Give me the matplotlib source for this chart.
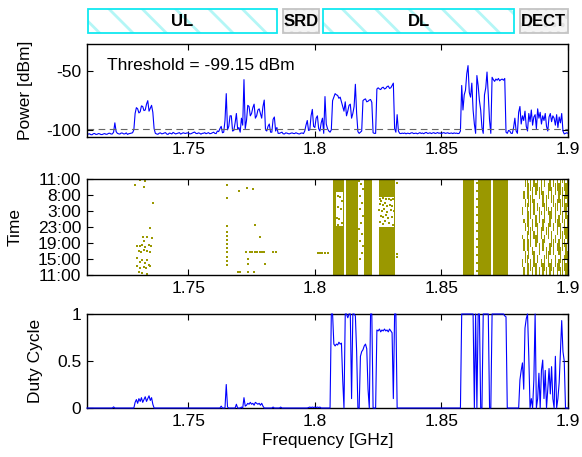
import matplotlib
matplotlib.use("Agg")
import matplotlib.pyplot as plt
import numpy as np
from matplotlib.patches import Rectangle

plt.rcParams["font.family"] = ["Liberation Sans", "DejaVu Sans"]
plt.rcParams["font.size"] = 12.5
plt.rcParams["hatch.linewidth"] = 2.0

# frequency grid of the sweep, MHz (0.5 MHz bins)
freq_mhz = np.arange(1710, 1900.5, 0.5)

# mean power per bin [dBm]
power_dbm = [
    -104.0, -103.6, -103.4, -104.1, -104.2, -103.3, -103.1, -103.9, -103.8, -103.2,
    -103.4, -104.0, -104.0, -103.5, -103.2, -103.8, -103.7, -103.0, -102.9, -103.6,
    -103.5, -102.0, -94.0, -101.5, -103.0, -103.4, -103.6, -102.7, -102.8, -103.5,
    -103.4, -102.6, -103.9, -103.3, -103.1, -102.8, -102.5, -100.0, -86.0, -81.0,
    -82.0, -85.5, -84.5, -79.5, -80.0, -83.5, -83.0, -78.0, -75.0, -84.0,
    -81.5, -79.0, -85.0, -99.0, -103.0, -103.5, -103.8, -102.9, -102.6, -103.4,
    -103.2, -102.7, -102.4, -103.6, -103.9, -102.8, -103.0, -103.5, -102.2, -102.9,
    -103.5, -103.1, -102.8, -102.4, -103.6, -103.0, -102.5, -102.9, -103.1, -102.6,
    -102.7, -103.4, -103.4, -102.8, -102.3, -101.9, -103.0, -103.2, -102.6, -102.9,
    -103.7, -103.0, -102.9, -102.4, -103.3, -102.8, -102.4, -103.3, -103.1, -102.5,
    -102.0, -103.0, -103.2, -101.0, -101.5, -99.0, -97.0, -102.5, -102.0, -92.0,
    -69.0, -100.0, -97.0, -88.0, -88.0, -101.0, -100.5, -94.0, -86.0, -99.5,
    -98.0, -102.0, -90.0, -96.0, -57.0, -99.0, -92.0, -79.0, -80.0, -88.0,
    -86.0, -81.0, -78.0, -90.0, -88.0, -83.0, -82.0, -86.0, -90.0, -80.0,
    -74.5, -100.0, -101.0, -97.0, -95.0, -102.0, -102.0, -91.0, -89.0, -101.0,
    -98.0, -103.0, -103.0, -102.5, -102.0, -103.4, -103.5, -102.6, -102.8, -103.3,
    -103.4, -102.9, -102.6, -103.1, -103.2, -102.5, -102.9, -103.4, -103.5, -102.8,
    -102.7, -103.2, -101.0, -96.0, -92.0, -100.5, -100.0, -88.0, -82.5, -97.0,
    -98.0, -90.0, -88.0, -99.0, -101.0, -94.0, -90.0, -103.0, -71.5, -95.0,
    -99.0, -101.0, -102.0, -100.0, -75.0, -72.0, -69.0, -70.0, -70.5, -73.0,
    -72.0, -76.0, -80.0, -84.0, -76.0, -88.0, -84.0, -79.0, -78.0, -90.0,
    -86.0, -80.0, -61.0, -86.0, -101.5, -103.0, -102.0, -101.0, -75.0, -74.0,
    -73.5, -76.0, -75.5, -74.5, -74.0, -76.5, -102.5, -103.0, -103.0, -65.0,
    -64.0, -65.0, -65.5, -64.0, -63.5, -65.0, -64.5, -63.0, -62.5, -64.5,
    -64.0, -62.0, -60.0, -99.0, -102.0, -87.0, -101.0, -103.0, -103.2, -102.8,
    -103.1, -102.7, -103.4, -102.9, -103.0, -103.3, -102.6, -102.5, -103.2, -103.0,
    -102.8, -103.4, -102.9, -102.4, -103.1, -102.7, -103.3, -102.6, -102.2, -103.0,
    -102.9, -102.5, -103.2, -102.7, -102.4, -103.1, -102.8, -102.3, -103.0, -102.6,
    -103.3, -102.6, -102.4, -103.0, -102.8, -102.5, -103.1, -102.9, -102.7, -103.2,
    -102.6, -103.0, -102.8, -103.2, -103.0, -101.0, -62.0, -83.0, -70.0, -66.0,
    -52.0, -45.0, -68.0, -72.0, -60.0, -83.0, -95.0, -103.0, -53.5, -62.0,
    -75.0, -83.0, -98.0, -103.0, -70.0, -64.0, -50.5, -70.0, -92.0, -103.0,
    -55.0, -57.0, -58.5, -56.5, -57.5, -56.0, -58.0, -57.0, -56.5, -57.5,
    -56.0, -102.0, -103.0, -100.5, -101.0, -103.0, -103.0, -98.0, -90.0, -101.0,
    -103.0, -85.0, -80.0, -95.0, -88.0, -92.0, -84.0, -97.0, -101.0, -86.0,
    -93.0, -83.0, -96.0, -89.0, -87.0, -99.0, -82.0, -90.0, -85.0, -95.0,
    -88.0, -92.0, -86.0, -97.0, -101.0, -89.0, -86.0, -93.0, -88.0, -90.0,
    -96.0, -87.0, -98.0, -89.0, -94.0, -86.0, -101.0, -103.5, -103.0, -102.5,
    -103.0,
]

# duty cycle per bin
duty = [
    0, 0, 0, 0, 0, 0, 0, 0, 0, 0,
    0, 0, 0, 0, 0, 0, 0, 0, 0, 0,
    0, 0.012, 0, 0, 0, 0, 0, 0, 0, 0,
    0, 0, 0, 0, 0, 0, 0, 0, 0.06, 0.09,
    0.05, 0.10, 0.07, 0.11, 0.06, 0.09, 0.12, 0.07, 0.10, 0.13,
    0.08, 0.11, 0.04, 0, 0, 0, 0, 0, 0, 0,
    0, 0, 0, 0, 0, 0, 0, 0, 0, 0,
    0, 0, 0, 0, 0, 0, 0, 0, 0, 0,
    0, 0, 0, 0, 0, 0, 0, 0, 0, 0,
    0, 0, 0, 0, 0, 0, 0, 0, 0, 0,
    0, 0, 0, 0, 0, 0, 0.02, 0, 0, 0,
    0.25, 0.01, 0, 0, 0, 0, 0, 0, 0.04, 0,
    0, 0, 0.01, 0, 0.11, 0.02, 0.03, 0.05, 0.04, 0.06,
    0.04, 0.05, 0.03, 0.06, 0.05, 0.04, 0.05, 0.03, 0.05, 0.02,
    0, 0, 0, 0, 0, 0, 0, 0.01, 0, 0,
    0, 0, 0, 0.01, 0, 0, 0, 0, 0, 0,
    0, 0, 0, 0, 0, 0, 0, 0, 0, 0,
    0, 0, 0, 0, 0, 0.005, 0.01, 0.005, 0.01, 0.005,
    0.01, 0.005, 0.01, 0.005, 0.01, 0, 0, 0, 0, 0,
    0, 0, 0, 1.0, 1.0, 0.68, 0.66, 0.68, 0.67, 0.70,
    0.68, 0.69, 0.30, 0.0, 1.0, 1.0, 0.96, 1.0, 1.0, 0.10,
    1.0, 1.0, 0.98, 0.60, 0.0, 0.0, 0.55, 0.60, 0.62, 0.66,
    0.68, 0.63, 0.20, 0.0, 1.0, 1.0, 0.0, 0.0, 0.0, 0.83,
    0.82, 0.84, 0.81, 0.83, 0.82, 0.84, 0.82, 0.83, 0.81, 0.84,
    0.82, 0.80, 0.10, 1.0, 1.0, 0.0, 0, 0, 0, 0,
    0, 0, 0, 0, 0, 0, 0, 0, 0, 0,
    0, 0, 0, 0, 0, 0, 0, 0, 0, 0,
    0, 0, 0, 0, 0, 0, 0, 0, 0, 0,
    0, 0, 0, 0, 0, 0, 0, 0, 0, 0,
    0, 0, 0, 0, 0, 0, 1.0, 1.0, 1.0, 1.0,
    1.0, 1.0, 1.0, 1.0, 1.0, 1.0, 0.0, 1.0, 0.0, 1.0,
    1.0, 0.0, 0.0, 1.0, 1.0, 1.0, 1.0, 1.0, 0.0, 0.0,
    1.0, 1.0, 1.0, 1.0, 1.0, 1.0, 1.0, 1.0, 1.0, 1.0,
    0.98, 0.97, 0.0, 0, 0, 0, 0, 0, 0, 0,
    0, 0, 0.30, 0.40, 0.48, 0.20, 0.85, 0.95, 1.0, 0.55,
    0.0, 0.10, 0.0, 0.30, 1.0, 0.0, 0.10, 0.37, 0.0, 0.40,
    0.51, 0.10, 0.40, 0.0, 0.20, 0.42, 0.15, 0.44, 0.10, 0.0,
    0.55, 0.0, 0.10, 0.27, 0.60, 0.93, 0.60, 0.50, 0.0, 0.0,
    0.0,
]

threshold_dbm = -99.15

# allocation boxes above the plots (MHz)
alloc_names = ["UL", "SRD", "DL", "DECT"]
alloc_lo = [1710.2, 1787.5, 1803.4, 1881.0]
alloc_hi = [1785.0, 1801.8, 1878.5, 1899.8]
alloc_cellular = [True, False, True, False]

# waterfall: channels busy the whole day (MHz)
busy_lo = [1807.3, 1812.4, 1819.4, 1825.2, 1858.7, 1864.6, 1870.3]
busy_hi = [1811.7, 1817.2, 1822.7, 1831.5, 1863.0, 1869.5, 1876.1]
# idle gaps inside those channels (MHz, hours after 11:00)
gap_lo = [1808.4, 1825.5]
gap_hi = [1811.2, 1831.2]
gap_t0 = [12.2, 12.0]
gap_t1 = [20.8, 19.5]

# single occupied samples (MHz, hours after 11:00)
dot_f = [
    1731.0, 1729.1, 1732.4, 1733.0, 1736.1,
    1735.0, 1733.7, 1732.1, 1735.7, 1732.6, 1729.7, 1730.8, 1731.7, 1733.0,
    1734.3, 1735.3, 1730.4, 1731.3, 1732.4, 1733.7, 1734.7, 1729.7, 1731.7,
    1733.7, 1730.8, 1733.0, 1734.3, 1729.7, 1732.4, 1735.0, 1731.0, 1733.4,
    1731.7, 1733.7, 1730.4,
    1765.4, 1765.4, 1765.4, 1765.4, 1765.4, 1765.4, 1765.4, 1765.4, 1765.4,
    1765.4, 1765.4, 1765.4,
    1770.2, 1773.2, 1775.5, 1773.5, 1773.5, 1776.5, 1778.5, 1780.5,
    1772.9, 1774.2, 1775.3, 1776.2, 1777.1, 1778.2, 1779.2, 1780.1, 1783.4,
    1784.7, 1769.5, 1770.5, 1773.5, 1775.8,
    1801.2, 1802.0, 1803.0, 1804.2, 1805.2,
    1809.1, 1810.1, 1810.6, 1809.3, 1810.4, 1808.8, 1809.7, 1810.6, 1809.1,
    1817.6, 1818.3, 1819.0, 1818.0, 1818.7, 1817.8, 1819.1, 1818.3, 1817.5,
    1818.8, 1818.0, 1819.1, 1818.6, 1817.8,
    1825.6, 1826.3, 1827.1, 1828.0, 1829.2, 1830.1, 1831.0, 1825.9, 1826.8,
    1827.7, 1828.6, 1829.5, 1830.6, 1825.4, 1826.4, 1827.3, 1828.3, 1829.9,
    1831.2, 1826.0, 1827.0, 1828.1, 1829.0, 1830.3, 1825.7, 1826.9, 1827.9,
    1829.3, 1830.8,
    1832.5, 1832.5, 1832.5,
    1864.2, 1864.2, 1864.2, 1864.2, 1864.2, 1864.2, 1864.2, 1864.2, 1864.2,
    1864.2, 1864.2, 1864.2,
]
dot_h = [
    23.75, 22.5, 22.1, 23.4, 17.9,
    11.8, 9.6, 9.6, 9.3, 8.5, 7.3, 7.3, 7.5, 7.1,
    7.5, 7.25, 6.0, 5.7, 6.25, 6.0, 5.7, 4.2, 3.75,
    3.75, 3.2, 2.9, 2.5, 2.3, 2.1, 2.25, 1.7, 1.8,
    0.4, 0.2, 0.7,
    12.25, 10.8, 9.75, 8.75, 7.75, 6.7, 5.7, 4.6, 3.6,
    2.5, 22.5, 19.2,
    21.1, 21.8, 21.5, 4.1, 2.75, 12.5, 9.4, 2.75,
    5.7, 5.7, 5.7, 5.7, 5.7, 5.7, 5.7, 5.7, 5.7,
    5.7, 0.7, 0.7, 0.7, 0.7,
    5.6, 5.6, 5.6, 5.6, 5.6,
    19.75, 19.6, 18.5, 16.9, 16.4, 14.3, 13.9, 13.1, 12.4,
    23.5, 22.7, 21.4, 19.75, 18.1, 16.4, 14.75, 13.1, 11.4,
    10.2, 8.5, 7.25, 5.6, 3.9,
    19.0, 18.6, 19.2, 18.9, 19.1, 18.7, 19.0, 17.8, 17.4,
    17.9, 17.2, 17.6, 17.3, 16.3, 16.0, 16.5, 15.8, 16.2,
    15.9, 14.7, 14.4, 14.9, 14.2, 14.6, 13.2, 12.8, 13.4,
    13.0, 12.6,
    23.1, 5.2, 4.4,
    1, 3, 5, 7, 9, 11, 13, 15, 17,
    19, 21, 23,
]

# DECT bursts: column frequency (MHz) and (start, end) hours
dect_f = [1882.0, 1882.6, 1883.2, 1883.9, 1884.5, 1885.2, 1885.9, 1886.6,
          1887.3, 1888.0, 1888.7, 1889.4, 1890.1, 1890.8, 1891.5, 1892.2,
          1892.9, 1893.6, 1894.3, 1895.0, 1895.7, 1896.4, 1897.1, 1897.8,
          1898.5, 1899.2, 1899.8]
dect_bursts = [
    [(2, 4), (9, 10), (15, 17)],
    [(0, 2), (6, 9), (13, 14), (19, 21)],
    [(3, 6), (11, 13), (17, 19), (22, 24)],
    [(0, 5), (6, 11), (12, 18), (19, 24)],
    [(0, 3), (4, 9), (10, 16), (17, 23)],
    [(1, 4), (7, 12), (14, 20), (21, 24)],
    [(0, 2), (5, 7), (11, 14), (18, 22)],
    [(2, 6), (9, 11), (15, 19), (22, 24)],
    [(0, 3), (7, 10), (12, 15), (20, 23)],
    [(3, 5), (8, 13), (16, 18), (21, 24)],
    [(0, 2), (5, 8), (13, 17), (19, 22)],
    [(2, 4), (9, 12), (15, 16), (20, 24)],
    [(0, 3), (6, 9), (11, 14), (17, 21)],
    [(1, 5), (8, 10), (13, 18), (22, 24)],
    [(0, 2), (4, 7), (10, 12), (16, 20)],
    [(2, 6), (9, 13), (15, 17), (19, 23)],
    [(0, 3), (5, 8), (12, 16), (21, 24)],
    [(1, 4), (7, 11), (14, 17), (18, 22)],
    [(0, 2), (5, 9), (11, 13), (17, 20), (22, 24)],
    [(2, 5), (8, 10), (13, 18), (20, 23)],
    [(0, 3), (6, 8), (10, 14), (16, 19), (21, 24)],
    [(1, 4), (5, 9), (12, 15), (18, 23)],
    [(0, 2), (3, 7), (9, 13), (15, 19), (20, 24)],
    [(0, 4), (6, 11), (13, 16), (17, 22), (23, 24)],
    [(1, 5), (7, 9), (10, 14), (16, 20), (21, 24)],
    [(0, 3), (4, 8), (9, 12), (14, 18), (19, 23)],
    [(0, 6), (8, 15), (17, 24)],
]

time_ticks = [0, 4, 8, 12, 16, 20, 24]
time_labels = ["11:00", "15:00", "19:00", "23:00", "3:00", "8:00", "11:00"]
freq_ticks = [1.75, 1.8, 1.85, 1.9]
freq_labels = ["1.75", "1.8", "1.85", "1.9"]

OLIVE = "#9a9800"
f_ghz = freq_mhz / 1000.0

fig = plt.figure(figsize=(5.82, 4.57), dpi=100)
ax_b = fig.add_axes([0.1495, 0.9234, 0.8265, 0.0591])
ax_p = fig.add_axes([0.1495, 0.7013, 0.8265, 0.2024])
ax_t = fig.add_axes([0.1495, 0.3982, 0.8265, 0.2101])
ax_d = fig.add_axes([0.1495, 0.1072, 0.8265, 0.2057])

# allocation boxes
ax_b.set_xlim(1.71, 1.9)
ax_b.set_ylim(0, 1)
ax_b.axis("off")
for name, lo, hi, cell in zip(alloc_names, alloc_lo, alloc_hi, alloc_cellular):
    x0, w = lo / 1000.0, (hi - lo) / 1000.0
    if cell:
        ax_b.add_patch(Rectangle((x0, 0.07), w, 0.88, facecolor="white",
                                 edgecolor="#b4f6f6", hatch="\\", lw=0, clip_on=False))
        ax_b.add_patch(Rectangle((x0, 0.07), w, 0.88, fill=False,
                                 edgecolor="#10e8f0", lw=1.3, clip_on=False))
    else:
        ax_b.add_patch(Rectangle((x0, 0.07), w, 0.88, facecolor="#f4f4f4",
                                 edgecolor="#e2e2e2", hatch="..", lw=0, clip_on=False))
        ax_b.add_patch(Rectangle((x0, 0.07), w, 0.88, fill=False,
                                 edgecolor="#c4c4c4", lw=1.3, clip_on=False))
    ax_b.text(x0 + w / 2, 0.5, name, ha="center", va="center",
              fontsize=12, fontweight="bold")

# power panel
ax_p.plot(f_ghz, power_dbm, color="#0000ff", lw=0.8)
ax_p.axhline(threshold_dbm, color="#666666", lw=0.8, ls=(0, (6, 4)))
ax_p.text(0.042, 0.773, "Threshold = -99.15 dBm", transform=ax_p.transAxes,
          ha="left", va="center", fontsize=12.5)
ax_p.set_ylim(-105.7, -26.5)
ax_p.set_yticks([-100, -50])
ax_p.set_yticklabels(["-100", "-50"])
ax_p.set_ylabel("Power [dBm]")
ax_p.yaxis.set_label_coords(-0.112, 0.5)

# waterfall panel
ax_t.bar([v / 1000.0 for v in busy_lo], 24,
         width=[(h - l) / 1000.0 for l, h in zip(busy_lo, busy_hi)],
         bottom=0, align="edge", color=OLIVE, lw=0)
ax_t.bar([v / 1000.0 for v in gap_lo],
         [b - a for a, b in zip(gap_t0, gap_t1)],
         width=[(h - l) / 1000.0 for l, h in zip(gap_lo, gap_hi)],
         bottom=gap_t0, align="edge", color="white", lw=0)
bx, bb, bh = [], [], []
for f, bursts in zip(dect_f, dect_bursts):
    for t0, t1 in bursts:
        bx.append(f / 1000.0)
        bb.append(t0)
        bh.append(t1 - t0)
ax_t.bar(bx, bh, width=0.0005, bottom=bb, color=OLIVE, lw=0)
ax_t.scatter([v / 1000.0 for v in dot_f], dot_h, s=3, marker="s",
             color=OLIVE, linewidths=0)
ax_t.set_ylim(0, 24)
ax_t.set_yticks(time_ticks)
ax_t.set_yticklabels(time_labels)
ax_t.set_ylabel("Time")
ax_t.yaxis.set_label_coords(-0.133, 0.5)

# duty cycle panel
ax_d.plot(f_ghz, duty, color="#0000ff", lw=0.8, clip_on=False, zorder=3)
ax_d.set_ylim(0, 1)
ax_d.set_yticks([0, 0.5, 1])
ax_d.set_yticklabels(["0", "0.5", "1"])
ax_d.set_ylabel("Duty Cycle")
ax_d.yaxis.set_label_coords(-0.092, 0.5)
ax_d.set_xlabel("Frequency [GHz]", labelpad=3)

for ax in (ax_p, ax_t, ax_d):
    ax.set_xlim(1.71, 1.9)
    ax.set_xticks(freq_ticks)
    ax.set_xticklabels(freq_labels)
    ax.tick_params(direction="in", length=4, width=0.8, top=True, right=True,
                   labelsize=12.5, pad=4)
    for sp in ax.spines.values():
        sp.set_linewidth(1.0)

fig.savefig("out.png", dpi=100)
plt.close(fig)
